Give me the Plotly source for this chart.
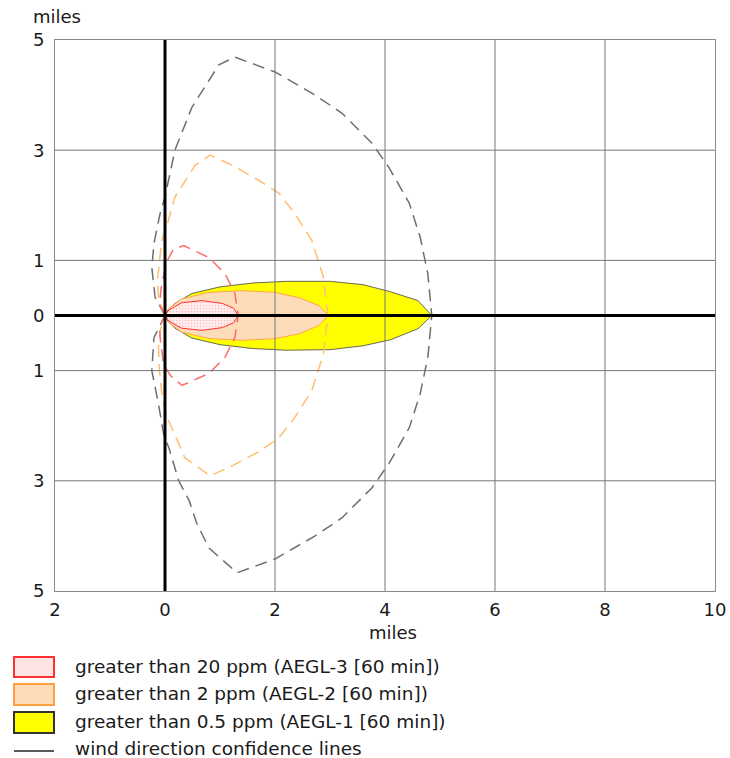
import plotly.graph_objects as go

# ---------------- data (miles) ----------------
x_ticks = [-2, 0, 2, 4, 6, 8, 10]
x_tick_labels = ["2", "0", "2", "4", "6", "8", "10"]
y_ticks = [5, 3, 1, 0, -1, -3, -5]
y_tick_labels = ["5", "3", "1", "0", "1", "3", "5"]

# AEGL-1 zone (yellow)
aegl1_x = [0, 0.05, 0.18, 0.49, 1.0, 1.6, 2.2, 3.0, 3.6, 4.1, 4.6, 4.85,
           4.6, 4.1, 3.6, 3.0, 2.2, 1.6, 1.0, 0.49, 0.18, 0.05, 0]
aegl1_y = [0, 0.1, 0.22, 0.4, 0.52, 0.59, 0.62, 0.62, 0.56, 0.43, 0.27, 0,
           -0.24, -0.44, -0.55, -0.62, -0.63, -0.6, -0.53, -0.41, -0.23, -0.1, 0]

# AEGL-2 zone (peach)
aegl2_x = [0, 0.1, 0.3, 0.8, 1.4, 2.0, 2.45, 2.8, 2.97,
           2.8, 2.45, 2.0, 1.4, 0.8, 0.3, 0.1, 0]
aegl2_y = [0, 0.15, 0.3, 0.42, 0.45, 0.42, 0.32, 0.18, 0,
           -0.18, -0.33, -0.42, -0.45, -0.42, -0.3, -0.15, 0]

# AEGL-3 zone (red, dotted)
aegl3_x = [0, 0.07, 0.3, 0.67, 1.04, 1.25, 1.33, 1.25, 1.04, 0.67, 0.3, 0.07, 0]
aegl3_y = [0, 0.1, 0.23, 0.27, 0.22, 0.13, 0, -0.13, -0.22, -0.27, -0.23, -0.1, 0]

# wind direction confidence lines
conf1_x = [0, -0.18, -0.24, -0.2, -0.09, 0, 0.18, 0.49, 0.98, 1.27, 2.0, 2.73, 3.22,
           3.76, 4.07, 4.44, 4.64, 4.78, 4.85, 4.78, 4.64, 4.44, 4.07, 3.76, 3.22,
           2.73, 2.0, 1.31, 0.8, 0.58, 0.44, 0.25, 0.07, -0.02, -0.12, -0.24, -0.2, 0]
conf1_y = [0, 0.33, 0.87, 1.31, 1.85, 2.15, 3.0, 3.78, 4.55, 4.69, 4.42, 4.0, 3.67,
           3.13, 2.69, 2.04, 1.42, 0.75, 0, -0.75, -1.42, -2.04, -2.69, -3.13, -3.67,
           -4.0, -4.42, -4.67, -4.22, -3.78, -3.36, -3.0, -2.4, -2.18, -1.6, -1.0, -0.4, 0]

conf2_x = [0, -0.11, -0.14, -0.1, -0.06, 0.04, 0.18, 0.55, 0.82, 1.22, 1.71, 2.07,
           2.36, 2.67, 2.88, 2.96, 2.88, 2.67, 2.36, 2.07, 1.71, 1.22, 0.82, 0.36,
           0.04, -0.05, -0.1, -0.12, -0.08, 0]
conf2_y = [0, 0.27, 0.6, 1.0, 1.36, 1.65, 2.15, 2.73, 2.91, 2.73, 2.45, 2.22,
           1.85, 1.36, 0.7, 0, -0.7, -1.36, -1.85, -2.22, -2.47, -2.73, -2.91, -2.58,
           -1.85, -1.49, -1.0, -0.55, -0.25, 0]

conf3_x = [0, -0.1, -0.07, 0.02, 0.15, 0.34, 0.8, 1.09, 1.27, 1.33,
           1.27, 1.09, 0.8, 0.31, 0.1, -0.02, -0.08, -0.1, 0]
conf3_y = [0, 0.2, 0.5, 0.95, 1.2, 1.27, 1.05, 0.76, 0.4, 0,
           -0.4, -0.76, -1.05, -1.27, -1.09, -0.9, -0.5, -0.2, 0]

legend_labels = [
    "greater than 20 ppm (AEGL-3 [60 min])",
    "greater than 2 ppm (AEGL-2 [60 min])",
    "greater than 0.5 ppm (AEGL-1 [60 min])",
    "wind direction confidence lines",
]

# ---------------- styling ----------------
FONT = "DejaVu Sans"
FS = 18
TXT = "#1a1a1a"
L, R, T, B = 55, 15, 40, 167
W, H = 730, 758
PW, PH = W - L - R, H - T - B


def px_x(p):
    return (p - L) / PW


def px_y(p):
    return (H - B - p) / PH


fig = go.Figure()

fig.add_trace(go.Scatter(x=aegl1_x, y=aegl1_y, mode="lines", fill="toself",
                         fillcolor="#FFFF00", line=dict(color="#6a6a50", width=1),
                         hoverinfo="skip", showlegend=False))
fig.add_trace(go.Scatter(x=aegl2_x, y=aegl2_y, mode="lines", fill="toself",
                         fillcolor="#FDDCBA", line=dict(color="#FFA64D", width=1),
                         hoverinfo="skip", showlegend=False))
fig.add_trace(go.Scatter(x=aegl3_x, y=aegl3_y, mode="lines", fill="toself",
                         fillcolor="#FFF0F0",
                         fillpattern=dict(shape=".", fgcolor="#FF9090", bgcolor="#FFF4F4",
                                          size=3, solidity=0.3),
                         line=dict(color="#FF3030", width=1),
                         hoverinfo="skip", showlegend=False))

for cx, cy, col in [(conf1_x, conf1_y, "#6e6e6e"),
                    (conf2_x, conf2_y, "#FFBE70"),
                    (conf3_x, conf3_y, "#FF6A6A")]:
    fig.add_trace(go.Scatter(x=cx, y=cy, mode="lines",
                             line=dict(color=col, width=1.5, dash="12px,7px"),
                             hoverinfo="skip", showlegend=False))

shapes = []
# grid lines (above the zones)
for v in x_ticks[1:-1]:
    if v != 0:
        shapes.append(dict(type="line", xref="x", yref="paper", x0=v, x1=v, y0=0, y1=1,
                           line=dict(color="#777777", width=1), layer="above"))
for v in y_ticks[1:-1]:
    if v != 0:
        shapes.append(dict(type="line", xref="paper", yref="y", x0=0, x1=1, y0=v, y1=v,
                           line=dict(color="#777777", width=1), layer="above"))
# heavy axes through the source
shapes.append(dict(type="line", xref="x", yref="paper", x0=0, x1=0, y0=0, y1=1,
                   line=dict(color="#000000", width=3), layer="above"))
shapes.append(dict(type="line", xref="paper", yref="y", x0=0, x1=1, y0=0, y1=0,
                   line=dict(color="#000000", width=3), layer="above"))

# legend
boxes = [((14, 657, 54, 677), "#FF3030", "#FFE4E4"),
         ((14, 684, 54, 705), "#FFA040", "#FDDCBA"),
         ((14, 712, 54, 733), "#333333", "#FFFF00")]
for (x0, y0, x1, y1), lc, fc in boxes:
    shapes.append(dict(type="rect", xref="paper", yref="paper",
                       x0=px_x(x0), x1=px_x(x1), y0=px_y(y1), y1=px_y(y0),
                       line=dict(color=lc, width=2), fillcolor=fc))
shapes.append(dict(type="line", xref="paper", yref="paper",
                   x0=px_x(14), x1=px_x(54), y0=px_y(751), y1=px_y(751),
                   line=dict(color="#222222", width=1.5)))

annotations = []
for lab, cy in zip(legend_labels, [666, 693, 721, 748]):
    annotations.append(dict(text=lab, xref="paper", yref="paper", x=px_x(73), y=px_y(cy),
                            xanchor="left", yanchor="middle", showarrow=False,
                            font=dict(family=FONT, size=18.5, color=TXT)))
annotations.append(dict(text="miles", xref="paper", yref="paper", x=px_x(57), y=px_y(17),
                        xanchor="center", yanchor="middle", showarrow=False,
                        font=dict(family=FONT, size=FS, color=TXT)))
annotations.append(dict(text="miles", xref="paper", yref="paper", x=px_x(393), y=px_y(632),
                        xanchor="center", yanchor="middle", showarrow=False,
                        font=dict(family=FONT, size=FS, color=TXT)))

fig.update_layout(
    width=W, height=H,
    margin=dict(l=L, r=R, t=T, b=B, pad=0, autoexpand=False),
    paper_bgcolor="white", plot_bgcolor="white",
    shapes=shapes, annotations=annotations,
    showlegend=False,
    font=dict(family=FONT, size=FS, color=TXT),
    xaxis=dict(range=[-2, 10], tickvals=x_ticks, ticktext=x_tick_labels,
               showgrid=False, zeroline=False, showline=True, mirror=True,
               linecolor="#8a8a8a", linewidth=1, ticks="", ticklabelstandoff=2,
               automargin=False,
               tickfont=dict(family=FONT, size=FS, color=TXT), fixedrange=True),
    yaxis=dict(range=[-5, 5], tickvals=y_ticks, ticktext=y_tick_labels,
               showgrid=False, zeroline=False, showline=True, mirror=True,
               linecolor="#8a8a8a", linewidth=1, ticks="", ticklabelstandoff=6,
               automargin=False,
               tickfont=dict(family=FONT, size=FS, color=TXT), fixedrange=True),
)

fig.write_html("out.html")
